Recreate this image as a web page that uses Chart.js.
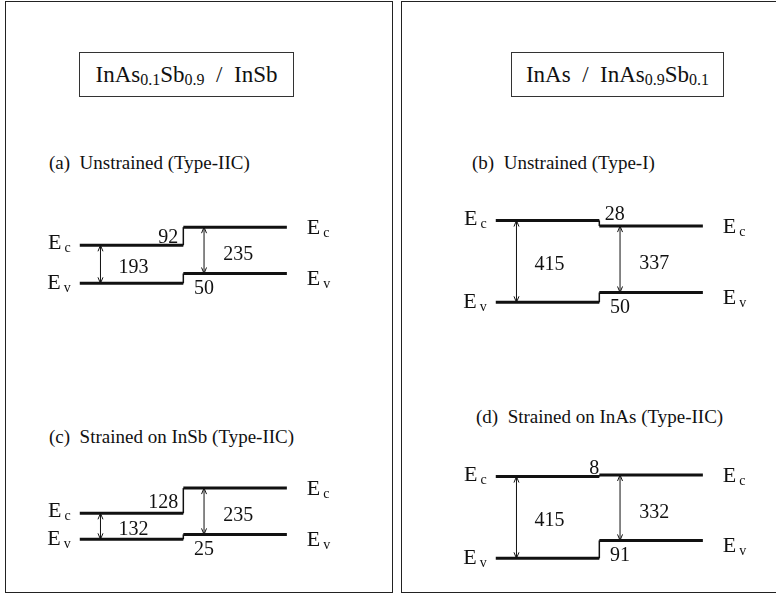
<!DOCTYPE html>
<html>
<head>
<meta charset="utf-8">
<script src="https://cdn.jsdelivr.net/npm/chart.js@4.4.1/dist/chart.umd.min.js"></script>
<style>
  html, body { margin: 0; padding: 0; background: #fff; }
  body { position: relative; width: 776px; height: 594px; overflow: hidden;
    font-family: "Liberation Serif", "DejaVu Serif", serif; color: #111; }
  .panel { position: absolute; top: 1px; height: 592px; border: 1.5px solid #222; box-sizing: border-box; }
  .title { position: absolute; height: 45px; border: 1px solid #333; box-sizing: border-box;
    display: flex; align-items: center; justify-content: center; font-size: 23px; white-space: pre; }
  .title .s { font-size: 16px; position: relative; top: 5px; }
  .case { position: absolute; font-size: 19px; line-height: 20px; white-space: pre; }
  canvas.band { position: absolute; }
</style>
</head>
<body>
<div class="panel" style="left:5px;width:388px"></div>
<div class="panel" style="left:401px;width:390px"></div>
<div class="title" style="left:79px;top:52px;width:215px">InAs<span class="s">0.1</span>Sb<span class="s">0.9</span>  /  InSb</div>
<div class="title" style="left:511px;top:52px;width:213px">InAs  /  InAs<span class="s">0.9</span>Sb<span class="s">0.1</span></div>
<div id="cases"></div>
<canvas class="band" id="band0" width="321" height="140"></canvas>
<canvas class="band" id="band1" width="321" height="140"></canvas>
<canvas class="band" id="band2" width="321" height="140"></canvas>
<canvas class="band" id="band3" width="321" height="140"></canvas>
<script>
"use strict";
const $ = (id) => document.getElementById(id);
const INK = "#111";

// band alignments in meV, order (a) (b) (c) (d)
const CASES = ["(a)  Unstrained (Type-IIC)", "(b)  Unstrained (Type-I)",
  "(c)  Strained on InSb (Type-IIC)", "(d)  Strained on InAs (Type-IIC)"];
const GAP_LEFT = [193, 415, 132, 415];
const GAP_RIGHT = [235, 337, 235, 332];
const VB_OFFSET = [50, 50, 25, 91];

// placement only (pixels on the page)
const LAYOUT = [
  { left: 28, zeroY: 283, caseX: 49, caseY: 153, cb: "side" },
  { left: 444, zeroY: 302, caseX: 472, caseY: 153, cb: "above", cbX: 1.15 },
  { left: 28, zeroY: 539, caseX: 49, caseY: 427, cb: "side" },
  { left: 444, zeroY: 558, caseX: 476, caseY: 407, cb: "above", cbX: 0.95 },
];
const PX_PER_MEV = 0.197, Y_TOP = 560, H = 140;

Chart.defaults.animation = false;
Chart.defaults.font.family = "'Liberation Serif', serif";

function eLabel(ctx, sub, px, cy, alignRight) {
  ctx.font = "22px 'Liberation Serif'";
  const wE = ctx.measureText("E").width;
  ctx.font = "14px 'Liberation Serif'";
  const wS = ctx.measureText(sub).width;
  const x0 = alignRight ? px - (wE + 3 + wS) : px;
  ctx.textAlign = "left";
  ctx.textBaseline = "alphabetic";
  ctx.font = "22px 'Liberation Serif'";
  ctx.fillText("E", x0, cy + 7);
  ctx.font = "14px 'Liberation Serif'";
  ctx.fillText(sub, x0 + wE + 3, cy + 10);
}

function num(ctx, t, px, cy, align) {
  ctx.font = "20px 'Liberation Serif'";
  ctx.textAlign = align;
  ctx.textBaseline = "alphabetic";
  ctx.fillText(t, px, cy + 7);
}

const bandText = {
  id: "bandText",
  afterDatasetsDraw(chart, args, o) {
    const { ctx, scales: { x, y } } = chart;
    const i = o.idx, L = LAYOUT[i];
    const evL = 0, ecL = GAP_LEFT[i], evR = VB_OFFSET[i], ecR = VB_OFFSET[i] + GAP_RIGHT[i];
    const py = (v) => y.getPixelForValue(v);
    ctx.save();
    ctx.fillStyle = INK;
    ctx.strokeStyle = INK;

    // arrow heads on the gap arrows
    chart.data.datasets.forEach((ds, k) => {
      if (!ds.arrow) return;
      const pts = chart.getDatasetMeta(k).data;
      const a = pts[0], b = pts[1];
      ctx.lineWidth = 1;
      ctx.beginPath();
      ctx.moveTo(a.x - 2.5, a.y - 6); ctx.lineTo(a.x, a.y); ctx.lineTo(a.x + 2.5, a.y - 6);
      ctx.moveTo(b.x - 2.5, b.y + 6); ctx.lineTo(b.x, b.y); ctx.lineTo(b.x + 2.5, b.y + 6);
      ctx.stroke();
    });

    // E_c / E_v labels
    const xl = x.getPixelForValue(0) - 9, xr = x.getPixelForValue(2) + 20;
    eLabel(ctx, "c", xl, py(ecL) - 3, true);
    eLabel(ctx, "v", xl, py(evL) - 1, true);
    eLabel(ctx, "c", xr, py(ecR), false);
    eLabel(ctx, "v", xr, py(evR) + 5, false);

    // gaps and offsets
    num(ctx, String(GAP_LEFT[i]), x.getPixelForValue(0.52), (py(evL) + py(ecL)) / 2 + 2, "center");
    num(ctx, String(GAP_RIGHT[i]), x.getPixelForValue(1.53), (py(evR) + py(ecR)) / 2 + 3, "center");
    num(ctx, String(VB_OFFSET[i]), x.getPixelForValue(1.2), py(evR) + 14, "center");
    const cb = String(Math.abs(ecR - ecL));
    if (L.cb === "side") num(ctx, cb, x.getPixelForValue(1) - 5, (py(ecL) + py(ecR)) / 2, "right");
    else num(ctx, cb, x.getPixelForValue(L.cbX), py(Math.max(ecL, ecR)) - 8, "center");
    ctx.restore();
  },
};

function seg(data, width, extra) {
  return Object.assign({ data, showLine: true, borderColor: INK, borderWidth: width,
    pointRadius: 0, borderCapStyle: "butt" }, extra || {});
}

CASES.forEach((label, i) => {
  const L = LAYOUT[i];
  const d = document.createElement("div");
  d.className = "case";
  d.style.left = L.caseX + "px";
  d.style.top = L.caseY + "px";
  d.textContent = label;
  $("cases").appendChild(d);

  const cv = $("band" + i);
  cv.style.left = L.left + "px";
  cv.style.top = Math.round(L.zeroY - Y_TOP * PX_PER_MEV) + "px";

  const evL = 0, ecL = GAP_LEFT[i], evR = VB_OFFSET[i], ecR = VB_OFFSET[i] + GAP_RIGHT[i];
  new Chart(cv, {
    type: "scatter",
    data: { datasets: [
      seg([{ x: 0, y: ecL }, { x: 1, y: ecL }], 3),
      seg([{ x: 1, y: ecR }, { x: 2, y: ecR }], 3),
      seg([{ x: 0, y: evL }, { x: 1, y: evL }], 3),
      seg([{ x: 1, y: evR }, { x: 2, y: evR }], 3),
      seg([{ x: 1, y: ecL }, { x: 1, y: ecR }], 1.5),
      seg([{ x: 1, y: evL }, { x: 1, y: evR }], 1.5),
      seg([{ x: 0.2, y: evL }, { x: 0.2, y: ecL }], 1, { arrow: true }),
      seg([{ x: 1.2, y: evR }, { x: 1.2, y: ecR }], 1, { arrow: true }),
    ] },
    options: {
      responsive: false,
      events: [],
      layout: { padding: 0 },
      plugins: { legend: { display: false }, tooltip: { enabled: false },
        bandText: { idx: i } },
      scales: {
        x: { type: "linear", display: false, min: -0.5, max: 2.6 },
        y: { type: "linear", display: false, max: Y_TOP, min: Y_TOP - H / PX_PER_MEV },
      },
    },
    plugins: [bandText],
  });
});
</script>
</body>
</html>
